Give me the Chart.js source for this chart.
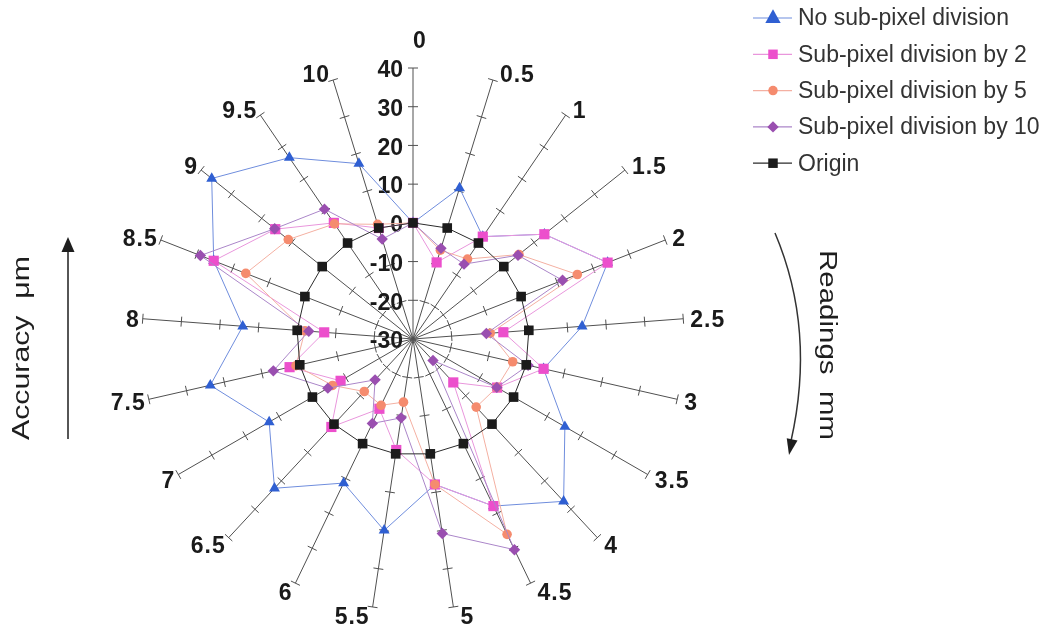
<!DOCTYPE html>
<html>
<head>
<meta charset="utf-8">
<script src="https://cdn.jsdelivr.net/npm/chart.js@4/dist/chart.umd.min.js"></script>
<style>
  html, body { margin: 0; padding: 0; background: #ffffff; }
  #wrap { position: relative; width: 1043px; height: 631px; }
  canvas { display: block; }
</style>
</head>
<body>
<div id="wrap"><canvas id="radar" width="1043" height="631"></canvas></div>
<script>
// Readings along the scale (mm), one spoke each
const readings = ['0', '0.5', '1', '1.5', '2', '2.5', '3', '3.5', '4', '4.5', '5',
                  '5.5', '6', '6.5', '7', '7.5', '8', '8.5', '9', '9.5', '10'];

// Accuracy (µm) measured at each reading
const noDivision = [0, 10.8, 2, 13.4, 24, 13.8, 4.6, 15.3, 27.2, 17.9, 8,
                    20, 11.3, 22.6, 12.9, 23.7, 14.1, 25.3, 36.5, 26.7, 17.4];
const divisionBy2 = [0, -9.3, 2, 13.4, 24, -6.6, 4.6, -4.9, -14.7, 17.9, 8,
                     -1, -10, 1, -8.4, 2.7, -7, 25.3, 15.5, 6.3, 0];
const divisionBy5 = [0, -6, -5, 5, 15.6, -10, -3.6, -5, -6, 26, 8,
                     -13.5, -11, -11.5, -6, 1, -2, 16.4, 11.2, 6, 1];
const divisionBy10 = [0, -5.5, -6.6, 4.7, 11.5, -11, 0.5, -5, -22.4, 30.4, 20.8,
                      -9.4, -5.8, -15.6, -4.6, 7, -3, 29, 15.7, 10.6, -3];
const originLine = [0, 0, 0, 0, 0, 0, 0, 0, 0, 0, 0,
                    0, 0, 0, 0, 0, 0, 0, 0, 0, 0];

// Accuracy axis ticks
const accuracyTicks = [-30, -20, -10, 0, 10, 20, 30, 40];

const FONT = '"Liberation Sans", Arial, Helvetica, sans-serif';

const series = [
  { label: 'No sub-pixel division', data: noDivision, line: '#6f8ddd', mark: '#2f5fd2', style: 'triangle', r: 6.3, order: 5 },
  { label: 'Sub-pixel division by 2', data: divisionBy2, line: '#e996dc', mark: '#ec4fcc', style: 'rect', r: 7.2, order: 4 },
  { label: 'Sub-pixel division by 5', data: divisionBy5, line: '#f4b0a2', mark: '#f58b6e', style: 'circle', r: 4.8, order: 3 },
  { label: 'Sub-pixel division by 10', data: divisionBy10, line: '#ab86c9', mark: '#9a4fb0', style: 'rectRot', r: 5.7, order: 2 },
  { label: 'Origin', data: originLine, line: '#2b2b2b', mark: '#1b1b1b', style: 'rect', r: 6.8, order: 1 }
];

function drawMarker(ctx, style, x, y, size, color) {
  ctx.save();
  ctx.fillStyle = color;
  ctx.beginPath();
  if (style === 'triangle') {
    ctx.moveTo(x, y - size * 0.8);
    ctx.lineTo(x + size * 0.7, y + size * 0.45);
    ctx.lineTo(x - size * 0.7, y + size * 0.45);
    ctx.closePath();
  } else if (style === 'rect') {
    ctx.rect(x - size / 2, y - size / 2, size, size);
  } else if (style === 'circle') {
    ctx.arc(x, y, size / 2, 0, Math.PI * 2);
  } else {
    ctx.moveTo(x, y - size * 0.6);
    ctx.lineTo(x + size * 0.6, y);
    ctx.lineTo(x, y + size * 0.6);
    ctx.lineTo(x - size * 0.6, y);
    ctx.closePath();
  }
  ctx.fill();
  ctx.restore();
}

function arrowHead(ctx, tipX, tipY, dx, dy, len, half) {
  const n = Math.hypot(dx, dy);
  const ux = dx / n, uy = dy / n;
  const bx = tipX - ux * len, by = tipY - uy * len;
  ctx.beginPath();
  ctx.moveTo(tipX, tipY);
  ctx.lineTo(bx - uy * half, by + ux * half);
  ctx.lineTo(bx + uy * half, by - ux * half);
  ctx.closePath();
  ctx.fill();
}

const decor = {
  id: 'radarDecor',
  beforeDatasetsDraw(chart) {
    const s = chart.scales.r;
    const ctx = chart.ctx;
    ctx.save();
    // short cross ticks on every spoke
    ctx.strokeStyle = '#505050';
    ctx.lineWidth = 1;
    for (let i = 0; i < readings.length; i++) {
      for (const v of accuracyTicks) {
        if (v === s.min) continue;
        const p = s.getPointPositionForValue(i, v);
        const px = -Math.sin(p.angle), py = Math.cos(p.angle);
        ctx.beginPath();
        ctx.moveTo(p.x - px * 5, p.y - py * 5);
        ctx.lineTo(p.x + px * 5, p.y + py * 5);
        ctx.stroke();
      }
    }
    // accuracy tick labels beside the first spoke
    ctx.fillStyle = '#1a1a1a';
    ctx.font = 'bold 23px ' + FONT;
    ctx.textAlign = 'right';
    ctx.textBaseline = 'middle';
    for (const v of accuracyTicks) {
      const p = s.getPointPositionForValue(0, v);
      ctx.fillText(String(v), s.xCenter - 10, p.y + 3);
    }
    // reading labels at the spoke ends
    ctx.font = 'bold 23px ' + FONT;
    if ('letterSpacing' in ctx) ctx.letterSpacing = '1px';
    for (let i = 0; i < readings.length; i++) {
      const p = s.getPointPositionForValue(i, s.max);
      const dx = Math.cos(p.angle), dy = Math.sin(p.angle);
      let x, y;
      if (Math.abs(dx) < 0.01) {
        ctx.textAlign = 'left';
        x = p.x;
        y = p.y - 26;
      } else if (dx > 0) {
        ctx.textAlign = 'left';
        x = p.x + 7;
        y = p.y + 3 + 8 * dy;
      } else {
        ctx.textAlign = 'right';
        x = p.x - 3;
        y = p.y + 3 + 8 * dy;
      }
      ctx.fillText(readings[i], x, y);
    }
    ctx.restore();
  },
  afterDraw(chart) {
    const ctx = chart.ctx;
    ctx.save();
    // legend
    ctx.font = '23px ' + FONT;
    ctx.textAlign = 'left';
    ctx.textBaseline = 'middle';
    series.forEach((sr, k) => {
      const y = 18 + k * 36.3;
      ctx.strokeStyle = sr.line;
      ctx.lineWidth = 1.2;
      ctx.beginPath();
      ctx.moveTo(753, y);
      ctx.lineTo(792, y);
      ctx.stroke();
      drawMarker(ctx, sr.style, 773, y, sr.style === 'triangle' ? 11 : 9.5, sr.mark);
      ctx.fillStyle = '#333333';
      ctx.fillText(sr.label, 798, y + 1);
    });

    // axis titles, stretched along their length
    ctx.fillStyle = '#1e1e1e';
    ctx.font = '23px ' + FONT;
    ctx.textAlign = 'center';
    ctx.textBaseline = 'middle';
    const acc = 'Accuracy  \u03bcm';
    ctx.save();
    ctx.translate(23, 348);
    ctx.rotate(-Math.PI / 2);
    ctx.scale(184 / ctx.measureText(acc).width, 1);
    ctx.fillText(acc, 0, 0);
    ctx.restore();

    const rd = 'Readings  mm';
    ctx.save();
    ctx.translate(826, 345);
    ctx.rotate(Math.PI / 2);
    ctx.scale(190 / ctx.measureText(rd).width, 1);
    ctx.fillText(rd, 0, 0);
    ctx.restore();

    // straight arrow on the left
    ctx.strokeStyle = '#1e1e1e';
    ctx.fillStyle = '#1e1e1e';
    ctx.lineWidth = 1.5;
    ctx.beginPath();
    ctx.moveTo(68, 439);
    ctx.lineTo(68, 250);
    ctx.stroke();
    arrowHead(ctx, 68, 237, 0, -1, 15, 6.5);

    // curved arrow on the right
    ctx.strokeStyle = '#333333';
    ctx.lineWidth = 1.5;
    ctx.beginPath();
    ctx.moveTo(775, 233);
    ctx.quadraticCurveTo(816, 330, 791, 441);
    ctx.stroke();
    ctx.fillStyle = '#1e1e1e';
    arrowHead(ctx, 789, 455, -0.2, 1, 16, 5.5);
    ctx.restore();
  }
};

new Chart(document.getElementById('radar'), {
  type: 'radar',
  data: {
    labels: readings,
    datasets: series.map(sr => ({
      label: sr.label,
      data: sr.data,
      order: sr.order,
      borderColor: sr.line,
      borderWidth: 1,
      backgroundColor: 'transparent',
      fill: false,
      tension: 0,
      pointStyle: sr.style,
      pointRadius: sr.r,
      pointBackgroundColor: sr.mark,
      pointBorderColor: sr.mark,
      pointBorderWidth: 0
    }))
  },
  options: {
    responsive: false,
    devicePixelRatio: 1,
    animation: false,
    events: [],
    layout: { padding: { left: 142, top: 68, right: 359, bottom: 21 } },
    plugins: { legend: { display: false }, tooltip: { enabled: false } },
    scales: {
      r: {
        min: -30,
        max: 40,
        startAngle: 0,
        ticks: { display: false, stepSize: 10 },
        grid: { display: false },
        angleLines: { display: true, color: '#505050', lineWidth: 1 },
        pointLabels: { display: false }
      }
    }
  },
  plugins: [decor]
});
</script>
</body>
</html>
